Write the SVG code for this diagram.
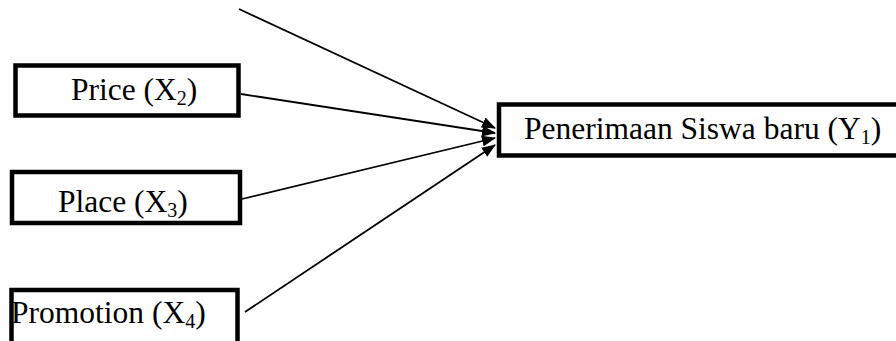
<svg xmlns="http://www.w3.org/2000/svg" width="896" height="341" viewBox="0 0 896 341">
<defs>
<style>
.box{fill:#fff;stroke:#000;stroke-width:4.5}
.lbl{font-family:'Liberation Serif',Tinos,'Times New Roman',Times,serif;font-size:31.5px;fill:#000}
.sub{font-size:20px}
.conn{stroke:#000;stroke-width:1.8;fill:none;marker-end:url(#ah)}
</style>
<marker id="ah" markerWidth="14" markerHeight="11" refX="13" refY="5.5" orient="auto" markerUnits="userSpaceOnUse">
<path d="M0,0 L14,5.5 L0,11 Z" fill="#000"/>
</marker>
</defs>
<rect width="896" height="341" fill="#fff"/>
<g id="connectors">
<line class="conn" x1="239" y1="9" x2="495" y2="128"/>
<line class="conn" x1="241" y1="94" x2="495" y2="133"/>
<line class="conn" x1="242" y1="199" x2="495" y2="138"/>
<line class="conn" x1="245" y1="312" x2="495" y2="145"/>
</g>
<g id="price">
<rect class="box" x="15.5" y="65.5" width="223" height="50"/>
<text class="lbl" x="71" y="100">Price (X<tspan class="sub" dy="5">2</tspan><tspan dy="-5">)</tspan></text>
</g>
<g id="place">
<rect class="box" x="12" y="172" width="228" height="51"/>
<text class="lbl" x="58" y="212">Place (X<tspan class="sub" dy="5">3</tspan><tspan dy="-5">)</tspan></text>
</g>
<g id="promotion">
<rect class="box" x="11.5" y="290" width="226" height="70"/>
<text class="lbl" x="11" y="323">Promotion (X<tspan class="sub" dy="5">4</tspan><tspan dy="-5">)</tspan></text>
</g>
<g id="penerimaan">
<rect class="box" x="499" y="104.5" width="420" height="51"/>
<text class="lbl" x="524" y="139">Penerimaan Siswa baru (Y<tspan class="sub" dy="5">1</tspan><tspan dy="-5">)</tspan></text>
</g>
</svg>
